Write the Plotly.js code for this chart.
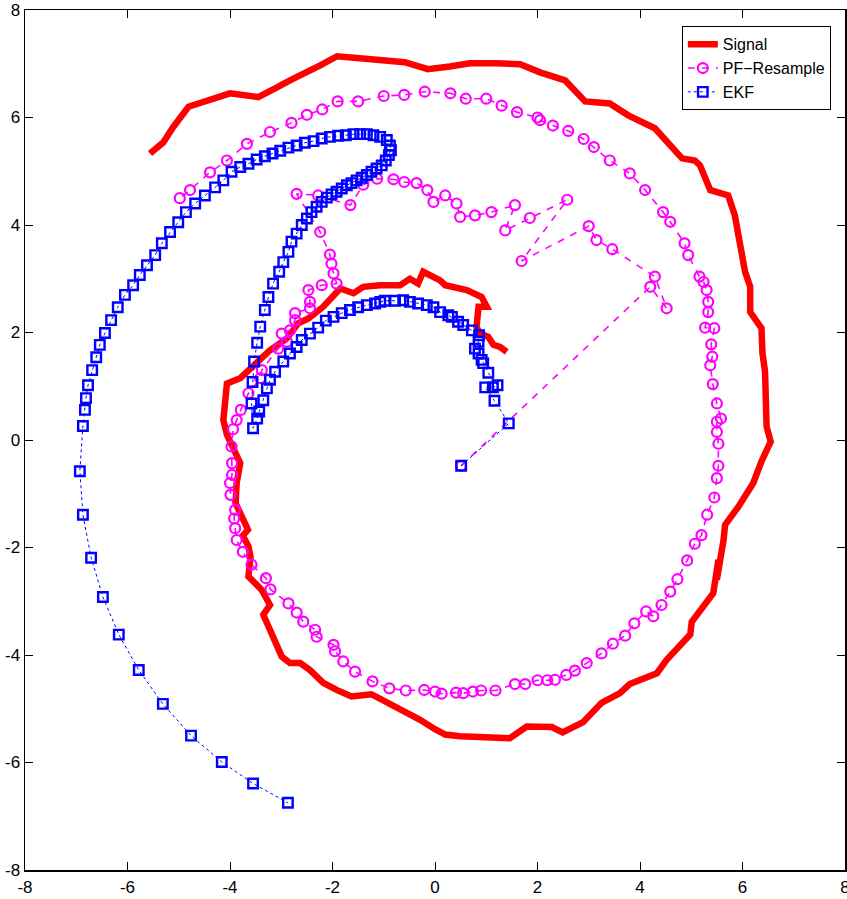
<!DOCTYPE html>
<html>
<head>
<meta charset="utf-8">
<script src="https://cdn.plot.ly/plotly-3.0.1.min.js"></script>
<style>html,body{margin:0;padding:0;background:#fff;overflow:hidden;}#chart{width:847px;height:899px;}</style>
</head>
<body>
<div id="chart"></div>
<script>
// Signal (true trajectory)
const signalX = [1.4,1.27,1.14,1.04,0.88,0.81,0.85,1.01,0.91,0.62,0.2,0.1,-0.23,-0.33,-0.49,-0.68,-1.07,-1.4,-1.59,-1.85,-2.18,-2.47,-2.67,-2.89,-3.22,-3.61,-3.8,-4.06,-4.13,-4.06,-3.9,-3.8,-3.87,-3.89,-3.8,-3.65,-3.75,-3.64,-3.6,-3.64,-3.38,-3.22,-3.35,-3.19,-2.99,-2.83,-2.63,-2.44,-2.18,-1.92,-1.63,-1.24,-1.04,-0.62,-0.3,0.0,0.2,0.49,1.46,1.79,2.28,2.49,2.89,3.25,3.61,3.8,4.33,4.52,4.98,5.01,5.3,5.43,5.53,5.5,5.63,5.66,5.92,6.21,6.37,6.55,6.47,6.44,6.39,6.37,6.15,6.15,6.05,5.95,5.85,5.72,5.37,5.17,5.07,4.82,4.29,3.77,3.41,2.93,2.54,2.05,1.66,1.17,0.68,0.29,-0.14,-0.59,-1.07,-1.56,-1.91,-2.24,-2.54,-2.83,-3.12,-3.45,-4.0,-4.49,-4.81,-5.11,-5.3,-5.56];
const signalY = [1.64,1.73,1.77,1.92,1.98,2.1,2.48,2.48,2.66,2.79,2.88,2.97,3.13,2.91,3.0,2.88,2.88,2.85,2.73,2.82,2.48,2.26,2.17,1.89,1.67,1.33,1.15,1.05,0.37,0.1,-0.19,-0.43,-0.8,-1.18,-1.36,-1.67,-1.78,-1.98,-2.17,-2.54,-2.79,-3.07,-3.25,-3.59,-4.03,-4.15,-4.15,-4.28,-4.52,-4.65,-4.77,-4.73,-4.83,-5.02,-5.2,-5.38,-5.48,-5.51,-5.55,-5.33,-5.34,-5.44,-5.25,-4.89,-4.71,-4.54,-4.34,-4.09,-3.62,-3.38,-3.04,-2.85,-2.23,-2.6,-1.86,-1.58,-1.24,-0.8,-0.4,-0.03,0.25,1.27,1.61,2.08,2.38,2.85,3.13,3.72,4.18,4.55,4.65,5.11,5.2,5.24,5.8,6.04,6.26,6.3,6.69,6.84,6.99,7.01,7.01,6.95,6.9,7.03,7.06,7.1,7.14,6.97,6.84,6.69,6.54,6.38,6.45,6.29,6.2,5.82,5.54,5.33];

// PF-Resample estimate
const pfX = [0.51,4.2,4.52,4.29,3.46,3.15,3.0,1.69,2.58,1.85,1.37,1.56,1.1,0.78,0.49,0.42,0.2,-0.03,-0.15,-0.36,-0.6,-0.81,-1.13,-1.4,-1.65,-2.28,-2.7,-2.24,-2.05,-2.02,-1.98,-1.92,-2.21,-2.47,-2.44,-2.44,-2.73,-2.73,-2.83,-2.99,-2.89,-3.06,-3.38,-3.41,-3.64,-3.79,-3.87,-3.94,-3.97,-3.96,-3.96,-4.0,-3.99,-3.9,-3.92,-3.9,-3.87,-3.75,-3.58,-3.3,-3.21,-2.86,-2.7,-2.57,-2.34,-2.31,-1.98,-1.95,-1.79,-1.56,-1.22,-0.89,-0.57,-0.21,0.0,0.13,0.41,0.55,0.74,0.9,1.18,1.56,1.76,2.0,2.19,2.34,2.56,2.73,2.96,3.25,3.47,3.71,3.89,4.12,4.26,4.42,4.59,4.73,4.92,5.07,5.2,5.31,5.45,5.5,5.53,5.53,5.5,5.5,5.58,5.5,5.42,5.37,5.41,5.39,5.45,5.27,5.33,5.33,5.3,5.24,5.16,4.94,4.87,4.59,4.45,4.1,3.8,3.41,3.1,2.9,2.6,2.3,2.05,2.0,1.6,1.3,1.0,0.6,0.3,-0.2,-0.6,-1.0,-1.5,-1.9,-2.2,-2.5,-2.8,-3.22,-3.67,-4.06,-4.39,-4.78,-4.98];
const pfY = [-0.48,2.85,2.45,3.04,3.55,3.72,3.98,3.33,4.47,4.13,3.9,4.37,4.24,4.18,4.15,4.4,4.55,4.43,4.65,4.78,4.8,4.85,4.86,4.75,4.37,4.55,4.58,3.87,3.45,3.28,3.1,2.91,2.88,2.79,2.57,2.45,2.36,2.23,2.04,1.98,1.83,1.7,1.3,1.15,0.87,0.56,0.37,0.2,-0.12,-0.43,-0.65,-0.8,-1.02,-1.3,-1.46,-1.64,-1.86,-2.08,-2.32,-2.57,-2.78,-3.04,-3.21,-3.38,-3.53,-3.66,-3.81,-3.93,-4.12,-4.31,-4.49,-4.62,-4.66,-4.65,-4.68,-4.72,-4.7,-4.71,-4.68,-4.66,-4.66,-4.54,-4.54,-4.47,-4.47,-4.46,-4.37,-4.29,-4.15,-3.97,-3.79,-3.64,-3.41,-3.19,-3.28,-3.07,-2.82,-2.59,-2.24,-1.93,-1.77,-1.39,-1.07,-0.71,-0.48,-0.07,0.15,0.34,0.4,0.68,1.04,1.39,1.55,1.78,2.08,2.09,2.38,2.57,2.79,2.94,3.04,3.44,3.66,4.06,4.24,4.65,4.96,5.2,5.45,5.6,5.75,5.85,5.95,6.0,6.1,6.22,6.35,6.35,6.45,6.48,6.42,6.4,6.3,6.3,6.15,6.05,5.9,5.73,5.51,5.2,4.98,4.65,4.5];

// EKF estimate
const ekfX = [0.51,1.44,1.16,0.98,1.13,1.22,1.04,0.94,0.91,0.85,0.78,0.85,0.86,0.72,0.55,0.45,0.33,0.26,0.1,-0.03,-0.16,-0.33,-0.49,-0.62,-0.78,-0.98,-1.07,-1.17,-1.33,-1.5,-1.66,-1.82,-1.98,-2.13,-2.28,-2.44,-2.6,-2.7,-2.83,-2.96,-3.12,-3.22,-3.28,-3.35,-3.43,-3.47,-3.55,-3.58,-3.56,-3.53,-3.47,-3.41,-3.32,-3.25,-3.16,-3.04,-2.96,-2.86,-2.8,-2.7,-2.6,-2.5,-2.41,-2.31,-2.21,-2.11,-2.02,-1.92,-1.82,-1.72,-1.63,-1.53,-1.43,-1.33,-1.24,-1.14,-1.04,-0.96,-0.9,-0.86,-0.88,-0.94,-1.07,-1.2,-1.33,-1.46,-1.59,-1.74,-1.89,-2.05,-2.21,-2.37,-2.54,-2.7,-2.86,-3.02,-3.17,-3.32,-3.48,-3.64,-3.8,-3.97,-4.13,-4.29,-4.49,-4.68,-4.86,-5.01,-5.17,-5.33,-5.46,-5.62,-5.76,-5.89,-6.05,-6.19,-6.32,-6.44,-6.54,-6.61,-6.69,-6.77,-6.81,-6.83,-6.87,-6.93,-6.87,-6.71,-6.48,-6.17,-5.78,-5.31,-4.76,-4.16,-3.55,-2.87];
const ekfY = [-0.48,0.31,0.73,0.98,0.98,1.02,1.25,1.43,1.49,1.61,1.7,1.83,1.95,2.04,2.14,2.2,2.29,2.32,2.38,2.47,2.51,2.54,2.57,2.6,2.59,2.59,2.57,2.54,2.51,2.47,2.42,2.36,2.29,2.22,2.09,1.98,1.86,1.73,1.61,1.46,1.27,1.12,0.96,0.74,0.53,0.4,0.22,0.68,1.08,1.46,1.81,2.11,2.42,2.66,2.91,3.13,3.31,3.5,3.69,3.84,4.0,4.12,4.24,4.34,4.43,4.51,4.57,4.62,4.68,4.74,4.78,4.83,4.88,4.93,4.99,5.05,5.11,5.2,5.3,5.39,5.48,5.58,5.64,5.67,5.69,5.69,5.69,5.67,5.66,5.64,5.61,5.56,5.53,5.48,5.44,5.38,5.33,5.28,5.22,5.14,5.08,4.99,4.83,4.7,4.55,4.4,4.24,4.05,3.87,3.66,3.44,3.25,3.07,2.88,2.7,2.47,2.23,1.99,1.77,1.54,1.3,1.02,0.78,0.56,0.26,-0.58,-1.39,-2.19,-2.92,-3.62,-4.28,-4.91,-5.5,-5.99,-6.39,-6.75];

const tickVals = [-8,-6,-4,-2,0,2,4,6,8];
const tickText = ['-8','-6','-4','-2','0','2','4','6','8'];

const traces = [
  {x: signalX, y: signalY, name: 'Signal', type: 'scatter', mode: 'lines',
   line: {color: 'rgb(255,0,0)', width: 6.5}},
  {x: pfX, y: pfY, name: 'PF\u2212Resample', type: 'scatter', mode: 'lines+markers',
   line: {color: 'rgb(255,0,255)', width: 1.6, dash: '7px,7px'},
   marker: {symbol: 'circle-open', size: 10, color: 'rgb(255,0,255)', line: {width: 2.2, color: 'rgb(255,0,255)'}}},
  {x: ekfX, y: ekfY, name: 'EKF', type: 'scatter', mode: 'lines+markers',
   line: {color: 'rgb(0,0,255)', width: 1, dash: 'dot'},
   marker: {symbol: 'square-open', size: 9.5, color: 'rgb(0,0,255)', line: {width: 2.4, color: 'rgb(0,0,255)'}}}
];

const fontFam = 'Liberation Sans Narrow, Arial Narrow, Liberation Sans, Arial, sans-serif';
const axisCommon = {
  range: [-8, 8], tickvals: tickVals, ticktext: tickText,
  ticks: 'inside', ticklen: 8, tickwidth: 1, tickcolor: '#000',
  showline: true, linecolor: '#000', linewidth: 1.5, mirror: 'ticks',
  showgrid: false, zeroline: false, automargin: false,
  ticklabeloverflow: 'allow',
  tickfont: {family: fontFam, size: 17, color: '#000'}
};

const layout = {
  width: 847, height: 899,
  margin: {l: 25, r: 2, t: 10, b: 29, pad: 0},
  paper_bgcolor: '#fff', plot_bgcolor: '#fff',
  showlegend: true,
  legend: {x: 0.801, y: 0.981, xanchor: 'left', yanchor: 'top',
    bgcolor: '#fff', bordercolor: '#000', borderwidth: 1,
    font: {family: fontFam, size: 16, color: '#000'},
    tracegroupgap: 0, itemwidth: 30},
  xaxis: Object.assign({}, axisCommon, {ticklabelstandoff: 1}),
  yaxis: Object.assign({}, axisCommon)
};

Plotly.newPlot('chart', traces, layout, {displayModeBar: false, staticPlot: true});
</script>
</body>
</html>
